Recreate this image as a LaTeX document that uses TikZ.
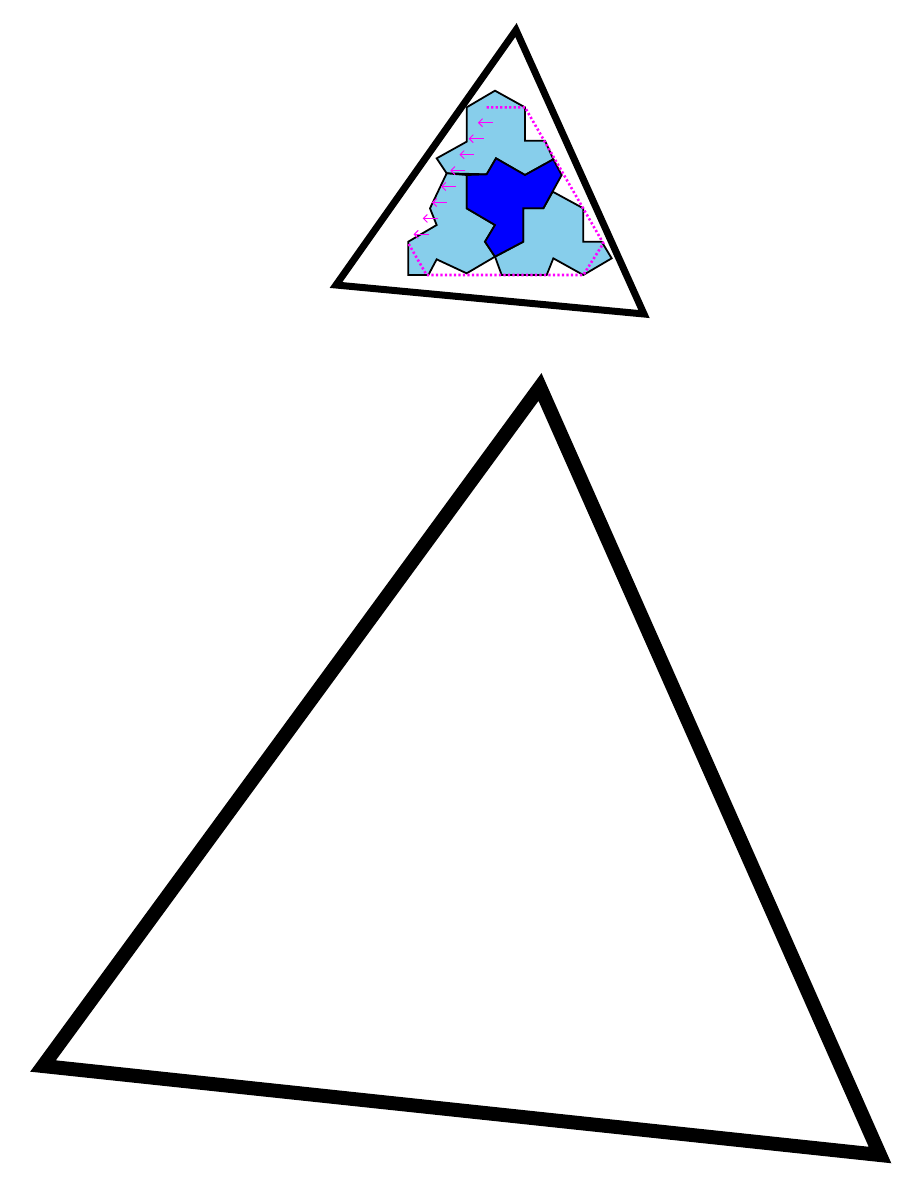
\documentclass[tikz,border=0pt]{standalone}
\usetikzlibrary{arrows.meta,calc}
\definecolor{tilelight}{RGB}{135,206,235}
\definecolor{tiledark}{RGB}{0,0,255}
\definecolor{hexmag}{RGB}{255,0,255}
\begin{document}
\begin{tikzpicture}[x=1pt,y=-1pt,
  frame/.style={draw=black,line join=miter},
  tilel/.style={fill=tilelight,draw=black,line width=1.8pt,line join=miter},
  tiled/.style={fill=tiledark,draw=black,line width=1.8pt,line join=miter},
  hexdot/.style={draw=hexmag,line width=2.6pt,dash pattern=on 2.2pt off 2.3pt},
  hexarrow/.style={draw=hexmag,line width=1pt,-{Straight Barb[length=4pt,width=8pt]}}]
\useasboundingbox (0,0) rectangle (913,1187);
% outer triangles
\draw[frame,line width=7pt] (516,30) coordinate (s1) -- (336,285) coordinate (s2) -- (644,314) coordinate (s3) -- cycle;
\draw[frame,line width=14pt] (540,387) coordinate (b1) -- (43,1066) coordinate (b2) -- (880,1155) coordinate (b3) -- cycle;
% tiling
\begin{scope}[shift={(400,80)},scale=1/3]
  % upper tile
  \draw[tilel] (200,82) -- (285,32) -- (375,82) -- (375,182) -- (435,182) -- (460,238)
    -- (375,285) -- (288,235) -- (260,283) -- (140,280) -- (110,235) -- (200,185) -- cycle;
  % left tile
  \draw[tilel] (140,280) -- (200,285) -- (200,385) -- (285,435) -- (255,485) -- (285,530)
    -- (200,580) -- (110,538) -- (85,585) -- (25,585) -- (25,485) -- (110,435) -- (90,385) -- cycle;
  % right tile
  \draw[tilel] (458,335) -- (550,385) -- (550,485) -- (605,485) -- (635,535) -- (550,585)
    -- (460,535) -- (440,585) -- (305,585) -- (285,530) -- (370,485) -- (370,385) -- (430,385) -- cycle;
  % central dark tile
  \draw[tiled] (200,285) -- (260,283) -- (288,235) -- (375,285) -- (460,238) -- (485,285)
    -- (430,385) -- (370,385) -- (370,485) -- (285,530) -- (255,485) -- (285,435) -- (200,385) -- cycle;
  % hexagon
  \coordinate (A) at (260,82);
  \coordinate (B) at (375,82);
  \coordinate (C) at (610,490);
  \coordinate (D) at (550,585);
  \coordinate (E) at (80,585);
  \coordinate (F) at (25,490);
  \draw[hexdot] (A) -- (B) -- (C) -- (D) -- (E) -- (F);
  \foreach \k in {0,...,7}{
    \pgfmathsetmacro\tt{0.113+0.1173*\k}
    \coordinate (tp\k) at ($(A)!\tt!(F)$);
    \draw[hexarrow] ([xshift=45pt]tp\k) -- (tp\k);
  }
\end{scope}
\end{tikzpicture}
\end{document}
